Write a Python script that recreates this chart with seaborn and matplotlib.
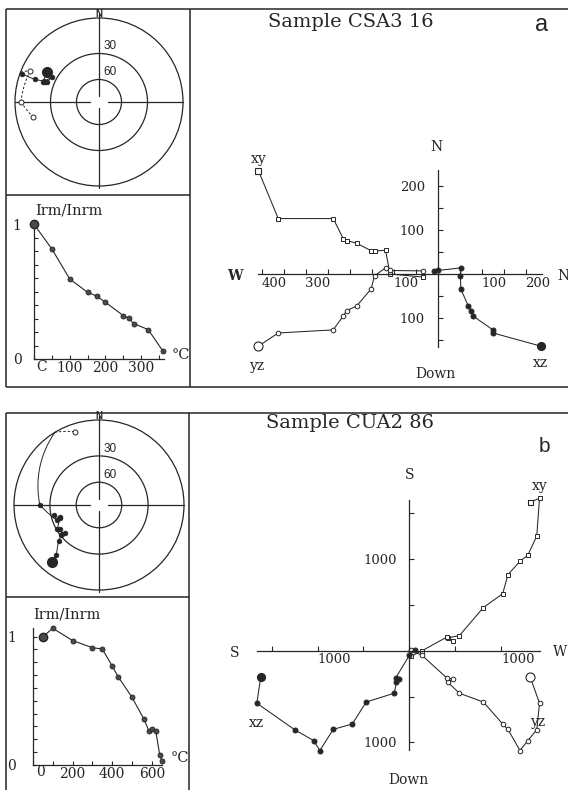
import numpy as np
import pandas as pd
import matplotlib
matplotlib.use('Agg')
import matplotlib.pyplot as plt
from matplotlib.patches import Circle
import seaborn as sns

sns.set_theme(style='white')
plt.rcParams['font.family'] = ['DejaVu Serif']

INK = '#262626'
W_PX, H_PX = 568, 790

# sample a (CSA3 16): demagnetisation steps, components N, W, Down
a_north = [235, 126, 126, 80, 76, 70, 53, 52, 54, 0, -7]
a_west = [407, 362, 237, 214, 206, 184, 151, 143, 118, 108, 32]
a_down = [164, 134, 127, 95, 83, 73, 34, 4, -14, -8, -7]
a_temp = [0, 50, 100, 150, 175, 200, 250, 265, 280, 320, 360]
a_ratio = [1.0, 0.817, 0.594, 0.495, 0.468, 0.421, 0.322, 0.302, 0.262, 0.218, 0.062]

# sample b (CUA2 86): components S, W, Down
b_south = [1620, 1663, 1250, 1043, 975, 830, 621, 471, 165, 140, 108, 150, 0, -60]
b_west = [1319, 1420, 1390, 1293, 1207, 1076, 1018, 808, 547, 420, 475, 412, 140, 20]
b_down = [290, 572, 862, 980, 1089, 858, 799, 560, 464, 345, 310, 300, 52, -6]
b_temp = [50, 100, 200, 300, 350, 400, 430, 500, 560, 585, 600, 620, 640, 650]
b_ratio = [1.0, 1.065, 0.969, 0.914, 0.904, 0.771, 0.688, 0.527, 0.358, 0.268, 0.278, 0.265, 0.078, 0.034]

fig = plt.figure(figsize=(W_PX / 100, H_PX / 100), dpi=100)


def px_axes(x0, y0, x1, y1):
    '''axes from a pixel box (top-left origin)'''
    return fig.add_axes([x0 / W_PX, 1 - y1 / H_PX, (x1 - x0) / W_PX, (y1 - y0) / H_PX])


def label(x, y, s, size=10, ha='center', va='center', **kw):
    fig.text(x / W_PX, 1 - y / H_PX, s, fontsize=size, ha=ha, va=va, color=INK, **kw)


# frames
bg = px_axes(0, 0, W_PX, H_PX)
bg.set_xlim(0, W_PX)
bg.set_ylim(H_PX, 0)
bg.axis('off')
frame_kw = dict(color=INK, lw=1.1, solid_capstyle='butt')
for y0, y1, xdiv, ymid in [(9, 387, 190, 195), (413, 792, 189, 597)]:
    bg.plot([6, 570], [y0, y0], **frame_kw)
    bg.plot([6, 6], [y0, y1], **frame_kw)
    bg.plot([xdiv, xdiv], [y0, y1], **frame_kw)
    bg.plot([6, xdiv], [ymid, ymid], **frame_kw)
bg.plot([6, 570], [387, 387], **frame_kw)


def stereo_xy(north, east, down):
    north, east, down = (np.asarray(v, float) for v in (north, east, down))
    inc = np.arctan2(np.abs(down), np.hypot(north, east))
    r = np.tan((np.pi / 2 - inc) / 2)
    dec = np.arctan2(east, north)
    return r * np.sin(dec), r * np.cos(dec)


def stereonet(box, center, radius, north, east, down):
    x0, y0, x1, y1 = box
    cx, cy = center
    ax = px_axes(x0, y0, x1, y1)
    ax.set_xlim((x0 - cx) / radius, (x1 - cx) / radius)
    ax.set_ylim((cy - y1) / radius, (cy - y0) / radius)
    ax.axis('off')
    for r in (1.0, np.tan(np.radians(30)), np.tan(np.radians(15))):
        ax.add_patch(Circle((0, 0), r, fill=False, ec=INK, lw=0.9))
    ax.plot([-1, -0.11], [0, 0], [0.11, 1], [0, 0], color=INK, lw=0.9)
    ax.plot([0, 0], [0.07, 1.05], [0, 0], [-1.02, -0.07], color=INK, lw=0.9)
    ax.text(0, 1.045, 'N', ha='center', va='center', fontsize=7, fontweight='bold',
            family='Liberation Sans', color=INK)
    ax.text(0.05, 0.59, '30', ha='left', va='bottom', fontsize=8.5, family='Liberation Sans', color=INK)
    ax.text(0.05, 0.28, '60', ha='left', va='bottom', fontsize=8.5, family='Liberation Sans', color=INK)

    # great-circle paths between successive steps, dashed on the upper hemisphere
    vec = np.column_stack([north, east, down]).astype(float)
    vec /= np.linalg.norm(vec, axis=1, keepdims=True)
    t = np.linspace(0, 1, 60)[:, None]
    for v1, v2 in zip(vec[:-1], vec[1:]):
        arc = (1 - t) * v1 + t * v2
        arc /= np.linalg.norm(arc, axis=1, keepdims=True)
        x, y = stereo_xy(arc[:, 0], arc[:, 1], arc[:, 2])
        upper = arc[:, 2] < 0
        cuts = [0, *(np.flatnonzero(np.diff(upper.astype(int))) + 1), len(upper)]
        for s, e in zip(cuts[:-1], cuts[1:]):
            seg = slice(max(s - 1, 0), e)
            ax.plot(x[seg], y[seg], color=INK, lw=0.7,
                    ls=(0, (2.5, 2)) if upper[s] else '-')

    xs, ys = stereo_xy(north, east, down)
    lower = np.asarray(down) >= 0
    ax.plot(xs[lower], ys[lower], 'o', ms=3.3, mfc=INK, mec=INK, mew=0.6)
    ax.plot(xs[~lower], ys[~lower], 'o', ms=3.6, mfc='white', mec=INK, mew=0.7)
    ax.plot(xs[0], ys[0], 'o', ms=7, mfc=INK if lower[0] else 'white', mec=INK)


def trace(ax, x, y, marker, filled, size, nrm_size):
    face = INK if filled else 'white'
    df = pd.DataFrame({'x': x, 'y': y})
    sns.lineplot(data=df, x='x', y='y', ax=ax, sort=False, estimator=None, legend=False,
                 color=INK, lw=0.75, marker=marker, markersize=size, markerfacecolor=face,
                 markeredgecolor=INK, markeredgewidth=0.7, clip_on=False)
    ax.plot(x[0], y[0], marker=marker, ms=nrm_size, mfc=face, mec=INK, mew=0.8,
            ls='none', clip_on=False, zorder=3)


def zijder_axes(box, origin, scale, hbounds, vbounds, hticks, hlabels, vticks, vlabels):
    x0, y0, x1, y1 = box
    ox, oy = origin
    ax = px_axes(x0, y0, x1, y1)
    ax.set_facecolor('none')
    for side in ('top', 'right'):
        ax.spines[side].set_visible(False)
    for side in ('left', 'bottom'):
        ax.spines[side].set_position(('data', 0))
        ax.spines[side].set_color(INK)
        ax.spines[side].set_linewidth(0.9)
    ax.spines['bottom'].set_bounds(*hbounds)
    ax.spines['left'].set_bounds(*vbounds)
    ax.set_xticks(hticks, hlabels)
    ax.set_yticks(vticks, vlabels)
    ax.tick_params(axis='both', direction='in', length=3.5, width=0.8, colors=INK,
                   bottom=True, left=True, labelsize=9.5)
    ax.tick_params(axis='x', pad=2)
    ax.tick_params(axis='y', pad=9)
    for lab in ax.get_xticklabels():
        lab.set_ha('left')
    return ax, (x0 - ox) / scale, (x1 - ox) / scale, (oy - y1) / scale, (oy - y0) / scale


def finish(ax, lims):
    ax.set_xlim(lims[0], lims[1])
    ax.set_ylim(lims[2], lims[3])
    ax.set_xlabel('')
    ax.set_ylabel('')


def intensity_axes(box, xmax, ymax, xticks, xlabels, ypad):
    ax = px_axes(*box)
    ax.set_facecolor('none')
    for side in ('top', 'right'):
        ax.spines[side].set_visible(False)
    for side in ('left', 'bottom'):
        ax.spines[side].set_color(INK)
        ax.spines[side].set_linewidth(0.9)
    ax.set_xticks(xticks, xlabels)
    yt = np.linspace(0, 1, 11)
    ax.set_yticks(yt, ['0'] + [''] * 9 + ['1'])
    ax.tick_params(axis='both', direction='in', length=3, width=0.8, colors=INK,
                   bottom=True, left=True, labelsize=10)
    ax.tick_params(axis='x', pad=1.5)
    ax.tick_params(axis='y', pad=ypad)
    return ax, (0, xmax, 0, ymax)


def intensity(ax, lims, temp, ratio):
    sns.lineplot(x=temp, y=ratio, ax=ax, sort=False, estimator=None, legend=False,
                 color=INK, lw=0.8, marker='o', markersize=3.6, markerfacecolor='#4a4a4a',
                 markeredgecolor=INK, markeredgewidth=0.6, clip_on=False)
    ax.plot(temp[0], ratio[0], 'o', ms=6, mfc='#4a4a4a', mec=INK, clip_on=False, zorder=3)
    finish(ax, lims)


# ---------------- panel a ----------------
stereonet((6, 9, 190, 195), (99, 102), 84, a_north, -np.array(a_west), a_down)

ax, *lims = zijder_axes((191, 10, 568, 387), (437.5, 274), 0.44, (-407, 237), (-165, 237),
                        np.arange(-400, 201, 50),
                        ['400', '', '300', '', '', '', '100', '', '', '', '100', '', '200'],
                        np.arange(-150, 201, 50),
                        ['', '100', '', '', '', '100', '', '200'])
aN, aW, aD = (np.array(v, float) for v in (a_north, a_west, a_down))
trace(ax, -aW, aN, 's', False, 3.4, 5.0)   # xy
trace(ax, -aW, -aD, 'o', False, 3.3, 6.5)  # yz
trace(ax, aN, -aD, 'o', True, 3.6, 5.8)    # xz
finish(ax, lims)

label(350.8, 21.7, 'Sample CSA3 16', size=14)
label(541.7, 25, 'a', size=17, family='Liberation Sans')
label(234.7, 276, 'W', size=10, fontweight='bold')
label(563, 276, 'N', size=10)
label(436.7, 146.7, 'N', size=10)
label(435, 374, 'Down', size=10)
label(258.3, 159.5, 'xy', size=10)
label(257.5, 365.8, 'yz', size=10)
label(540.8, 363, 'xz', size=10)

ax, lims = intensity_axes((34, 224.3, 164, 359), 364, 1.0, np.arange(0, 351, 50),
                          ['', '', '100', '', '200', '', '300', ''], 9)
intensity(ax, lims, a_temp, a_ratio)
label(41.7, 366.7, 'C', size=10)
label(35, 210.7, 'Irm/Inrm', size=10.5, ha='left')
label(180.5, 355, '°C', size=10.5)

# ---------------- panel b ----------------
bS, bW, bD = (np.array(v, float) for v in (b_south, b_west, b_down))
stereonet((6, 413, 189, 597), (99, 505), 85, -bS, -bW, bD)

ax, *lims = zijder_axes((191, 414, 568, 790), (409.3, 650.7), 0.0917, (-1659, 1420), (-1087, 1645),
                        np.arange(-1500, 1001, 500),
                        ['', '1000', '', '', '', '1000'],
                        np.arange(-1000, 1501, 500),
                        ['1000', '', '', '', '1000', ''])
trace(ax, bW, bS, 's', False, 3.4, 3.6)    # xy
trace(ax, bW, -bD, 'o', False, 3.3, 6.5)   # yz
trace(ax, -bS, -bD, 'o', True, 3.6, 5.8)   # xz
finish(ax, lims)

label(350, 423.3, 'Sample CUA2 86', size=14)
label(544.3, 446, 'b', size=15, family='Liberation Sans')
label(409.5, 475, 'S', size=10)
label(235, 653.3, 'S', size=10)
label(560, 651.7, 'W', size=10)
label(408.3, 780, 'Down', size=10)
label(540, 486, 'xy', size=10)
label(256.7, 722.7, 'xz', size=10)
label(538.3, 721.7, 'yz', size=10)

ax, lims = intensity_axes((33, 628.3, 161.7, 765), 650, 1.065, np.arange(0, 601, 100),
                          ['', '', '200', '', '400', '', '600'], 12)
intensity(ax, lims, b_temp, b_ratio)
label(40.7, 771.7, '0', size=10)
label(33, 615, 'Irm/Inrm', size=10.5, ha='left')
label(180, 758, '°C', size=10.5)

fig.savefig('out.png', dpi=100, facecolor='white')
